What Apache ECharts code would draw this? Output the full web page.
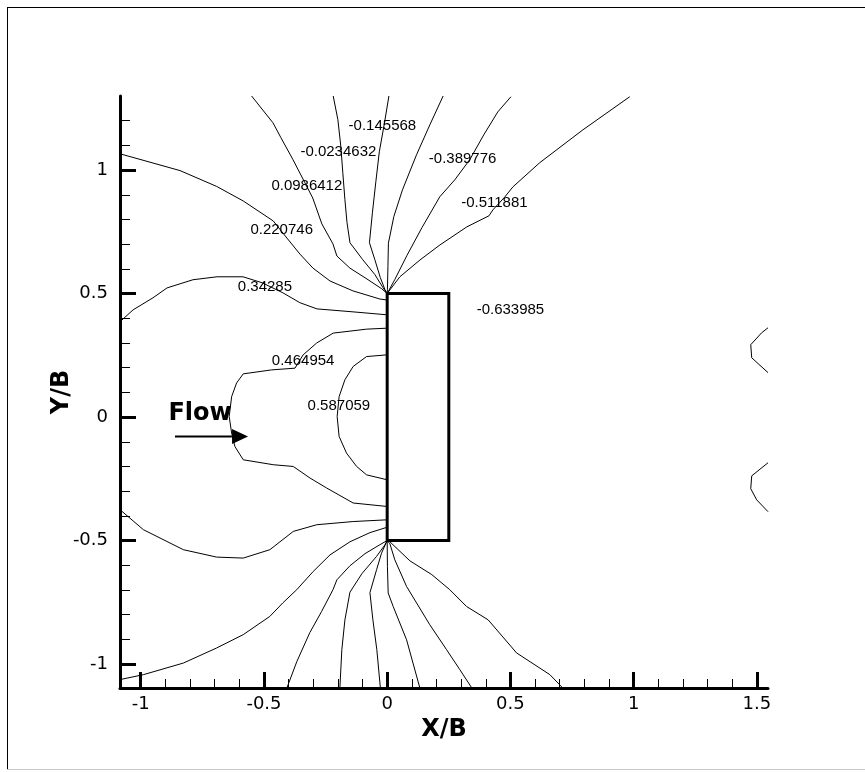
<!DOCTYPE html>
<html>
<head>
<meta charset="utf-8">
<title>Pressure coefficient contours around a rectangular cylinder</title>
<script src="https://cdn.jsdelivr.net/npm/echarts@6/dist/echarts.min.js"></script>
<style>
  html, body { margin: 0; padding: 0; background: #ffffff; }
  #chart { width: 865px; height: 772px; }
</style>
</head>
<body>
<div id="chart"></div>
<script>
// Axis extents (X/B, Y/B)
const xRange = [-1.084, 1.545];
const yRange = [-1.097, 1.30];

// Tick values
const xMajorTicks = [-1, -0.5, 0, 0.5, 1, 1.5];
const xMinorTicks = [-0.9, -0.8, -0.7, -0.6, -0.4, -0.3, -0.2, -0.1, 0.1, 0.2, 0.3, 0.4,
                     0.6, 0.7, 0.8, 0.9, 1.1, 1.2, 1.3, 1.4];
const yMajorTicks = [-1, -0.5, 0, 0.5, 1];
const yMinorTicks = [-0.9, -0.8, -0.7, -0.6, -0.4, -0.3, -0.2, -0.1, 0.1, 0.2, 0.3, 0.4,
                     0.6, 0.7, 0.8, 0.9, 1.1, 1.2];

// Contour levels of the pressure coefficient
const levels = [0.587059, 0.464954, 0.34285, 0.220746, 0.0986412, -0.0234632,
                -0.145568, -0.267672, -0.389776, -0.511881, -0.633985];

// Cylinder cross-section (front face at X/B = 0, depth 0.25 B)
const bodyOutline = [[0, -0.5], [0, 0.5], [0.25, 0.5], [0.25, -0.5], [0, -0.5]];

// Contour polylines [X/B, Y/B]
const cp0587 = [[0, 0.252], [-0.0835, 0.245], [-0.138, 0.205], [-0.1715, 0.151], [-0.195, 0.083],
  [-0.203, 0.002], [-0.195, -0.0785], [-0.165, -0.146], [-0.124, -0.200], [-0.0835, -0.234], [0, -0.254]];

const cp0465 = [[0, 0.360], [-0.0835, 0.356], [-0.219, 0.340], [-0.286, 0.300], [-0.341, 0.252],
  [-0.374, 0.198], [-0.469, 0.191], [-0.584, 0.175], [-0.611, 0.138], [-0.631, 0.083], [-0.641, 0.002],
  [-0.631, -0.065], [-0.618, -0.119], [-0.584, -0.173], [-0.462, -0.193], [-0.381, -0.200],
  [-0.313, -0.247], [-0.246, -0.287], [-0.138, -0.348], [0, -0.362]];

const cp0343Upper = [[-1.084, 0.386], [-1.031, 0.434], [-0.950, 0.483], [-0.893, 0.523], [-0.788, 0.556],
  [-0.690, 0.568], [-0.585, 0.568], [-0.508, 0.544], [-0.423, 0.503], [-0.354, 0.463], [-0.285, 0.438],
  [-0.139, 0.426], [0, 0.414]];
const cp0343Lower = [[-1.084, -0.375], [-0.989, -0.456], [-0.827, -0.537], [-0.692, -0.567], [-0.584, -0.571],
  [-0.476, -0.537], [-0.381, -0.463], [-0.286, -0.436], [-0.138, -0.423], [0, -0.416]];

const cp0221Upper = [[-1.084, 1.066], [-0.8406, 0.998], [-0.692, 0.934], [-0.584, 0.875], [-0.462, 0.794],
  [-0.407, 0.725], [-0.354, 0.660], [-0.301, 0.603], [-0.232, 0.551], [-0.139, 0.511], [-0.030, 0.478], [0, 0.474]];
const cp0221Lower = [[-1.084, -1.063], [-0.989, -1.043], [-0.827, -0.996], [-0.692, -0.935], [-0.584, -0.881],
  [-0.476, -0.807], [-0.423, -0.752], [-0.367, -0.699], [-0.300, -0.625], [-0.232, -0.558], [-0.151, -0.505],
  [-0.070, -0.468], [0, -0.446]];

const cp0099Upper = [[-0.550, 1.30], [-0.4635, 1.1915], [-0.431, 1.131], [-0.382, 1.042], [-0.334, 0.949],
  [-0.302, 0.887], [-0.265, 0.782], [-0.220, 0.701], [-0.204, 0.652], [-0.151, 0.603], [-0.082, 0.559],
  [-0.0215, 0.519], [0, 0.5]];
const cp0099Lower = [[-0.407, -1.097], [-0.367, -0.991], [-0.314, -0.873], [-0.266, -0.787], [-0.220, -0.699],
  [-0.204, -0.659], [-0.151, -0.602], [-0.090, -0.553], [-0.030, -0.517], [0, -0.5]];

const cpM023Upper = [[-0.219, 1.30], [-0.200, 1.204], [-0.188, 1.095], [-0.180, 0.989], [-0.1715, 0.880],
  [-0.163, 0.7875], [-0.151, 0.706], [-0.099, 0.637], [-0.050, 0.577], [-0.017, 0.524], [0, 0.5]];
const cpM023Lower = [[-0.192, -1.097], [-0.184, -0.942], [-0.1715, -0.821], [-0.151, -0.709], [-0.1025, -0.634],
  [-0.043, -0.564], [-0.009, -0.517], [0, -0.5]];

const cpM146Upper = [[0.007, 1.30], [-0.011, 1.191], [-0.032, 1.074], [-0.046, 0.953], [-0.060, 0.827],
  [-0.072, 0.706], [-0.050, 0.637], [-0.028, 0.565], [-0.009, 0.516], [0, 0.5]];
const cpM146Lower = [[-0.0276, -1.097], [-0.042, -0.942], [-0.058, -0.821], [-0.070, -0.711], [-0.043, -0.618],
  [-0.023, -0.551], [0, -0.5]];

const cpM268Upper = [[0.227, 1.30], [0.173, 1.183], [0.119, 1.062], [0.062, 0.920], [0.027, 0.812],
  [0.005, 0.704], [0.003, 0.610], [0.001, 0.516], [0, 0.5]];
const cpM268Lower = [[0.1326, -1.097], [0.0787, -0.902], [0.0243, -0.767], [0.004, -0.7125], [0.001, -0.605], [0, -0.5]];

const cpM390Upper = [[0.502, 1.297], [0.449, 1.236], [0.392, 1.143], [0.335, 1.042], [0.2745, 0.961],
  [0.2135, 0.892], [0.141, 0.767], [0.080, 0.654], [0.031, 0.557], [0, 0.5]];
const cpM390Lower = [[0.3435, -1.097], [0.295, -1.023], [0.241, -0.942], [0.173, -0.841], [0.0787, -0.686],
  [0.031, -0.578], [0.011, -0.513], [0, -0.5]];

const cpM512Upper = [[0.984, 1.297], [0.794, 1.163], [0.619, 1.030], [0.510, 0.932], [0.477, 0.891],
  [0.429, 0.839], [0.413, 0.815], [0.323, 0.770], [0.214, 0.697], [0.133, 0.636], [0.0515, 0.568],
  [0.011, 0.515], [0, 0.5]];
const cpM512Lower = [[0.7125, -1.097], [0.660, -1.043], [0.525, -0.955], [0.4096, -0.821], [0.322, -0.767],
  [0.254, -0.699], [0.181, -0.638], [0.092, -0.582], [0.011, -0.505], [0, -0.5]];

const wakeUpper = [[1.545, 0.3615], [1.519, 0.341], [1.475, 0.293], [1.479, 0.240], [1.545, 0.180]];
const wakeLower = [[1.545, -0.185], [1.479, -0.238], [1.475, -0.290], [1.499, -0.335], [1.545, -0.383]];

// Where each level's value is written [X/B, Y/B]
const labelAnchors = [[-0.196, 0.046], [-0.341, 0.228], [-0.496, 0.528], [-0.428, 0.760], [-0.326, 0.936],
  [-0.198, 1.072], [-0.0195, 1.179], null, [0.306, 1.046], [0.435, 0.868], [0.500, 0.434]];

// Free-stream annotation
const flowText = 'Flow';
const flowTextAt = [-0.759, 0.0146];
const flowShaft = [[-0.861, -0.0785], [-0.630, -0.0785]];
const flowHead = [[-0.597, -0.0785]];

const contourLines = [
  cp0587, cp0465, cp0343Upper, cp0343Lower, cp0221Upper, cp0221Lower, cp0099Upper, cp0099Lower,
  cpM023Upper, cpM023Lower, cpM146Upper, cpM146Lower, cpM268Upper, cpM268Lower,
  cpM390Upper, cpM390Lower, cpM512Upper, cpM512Lower, wakeUpper, wakeLower
];

const chart = echarts.init(document.getElementById('chart'), null, { renderer: 'canvas' });

const lineSeries = contourLines.map(function (pts) {
  return {
    type: 'line', data: pts, xAxisIndex: 0, yAxisIndex: 0,
    showSymbol: false, symbol: 'none', silent: true, animation: false,
    lineStyle: { color: '#000', width: 1 }, z: 2
  };
});

const levelLabelData = [];
labelAnchors.forEach(function (a, i) {
  if (a) levelLabelData.push([a[0], a[1], levels[i]]);
});

const tickFont = { fontFamily: 'DejaVu Sans', fontSize: 18, color: '#000' };

const option = {
  backgroundColor: '#ffffff',
  animation: false,
  grid: { left: 120, top: 96, right: 97, bottom: 84, containLabel: false },
  xAxis: [
    {
      type: 'value', min: xRange[0], max: xRange[1], position: 'bottom',
      name: 'X/B', nameLocation: 'middle', nameGap: 30, nameMoveOverlap: false,
      nameTextStyle: { fontFamily: 'DejaVu Sans', fontWeight: 'bold', fontSize: 24, color: '#000' },
      axisLine: { show: true, onZero: false, lineStyle: { color: '#000', width: 3 } },
      axisTick: { show: true, inside: true, length: 16, customValues: xMajorTicks,
                  lineStyle: { color: '#000', width: 3 } },
      axisLabel: Object.assign({ show: true, margin: 7, customValues: xMajorTicks }, tickFont),
      splitLine: { show: false }
    },
    {
      type: 'value', min: xRange[0], max: xRange[1], position: 'bottom',
      axisLine: { show: false, onZero: false },
      axisTick: { show: true, inside: true, length: 9, customValues: xMinorTicks,
                  lineStyle: { color: '#000', width: 1 } },
      axisLabel: { show: false },
      splitLine: { show: false }
    }
  ],
  yAxis: [
    {
      type: 'value', min: yRange[0], max: yRange[1], position: 'left',
      name: 'Y/B', nameLocation: 'middle', nameGap: 46, nameMoveOverlap: false,
      nameTextStyle: { fontFamily: 'DejaVu Sans', fontWeight: 'bold', fontSize: 24, color: '#000' },
      axisLine: { show: true, onZero: false, lineStyle: { color: '#000', width: 3 } },
      axisTick: { show: true, inside: true, length: 16, customValues: yMajorTicks,
                  lineStyle: { color: '#000', width: 3 } },
      axisLabel: Object.assign({ show: true, margin: 12, customValues: yMajorTicks }, tickFont),
      splitLine: { show: false }
    },
    {
      type: 'value', min: yRange[0], max: yRange[1], position: 'left',
      axisLine: { show: false, onZero: false },
      axisTick: { show: true, inside: true, length: 10, customValues: yMinorTicks,
                  lineStyle: { color: '#000', width: 1 } },
      axisLabel: { show: false },
      splitLine: { show: false }
    }
  ],
  graphic: [
    { type: 'line', silent: true, shape: { x1: 7, y1: 7.5, x2: 865, y2: 7.5 }, style: { stroke: '#000', lineWidth: 1 } },
    { type: 'line', silent: true, shape: { x1: 7.5, y1: 7, x2: 7.5, y2: 769 }, style: { stroke: '#000', lineWidth: 1 } },
    { type: 'line', silent: true, shape: { x1: 7, y1: 769.5, x2: 865, y2: 769.5 }, style: { stroke: '#c8c8c8', lineWidth: 1 } }
  ],
  series: lineSeries.concat([
    {
      type: 'line', data: bodyOutline, xAxisIndex: 0, yAxisIndex: 0,
      showSymbol: false, symbol: 'none', silent: true, animation: false,
      lineStyle: { color: '#000', width: 3, join: 'miter', cap: 'square' }, z: 3
    },
    {
      type: 'line', data: flowShaft, xAxisIndex: 0, yAxisIndex: 0,
      showSymbol: false, symbol: 'none', silent: true, animation: false,
      lineStyle: { color: '#000', width: 2 }, z: 3
    },
    {
      type: 'scatter', data: flowHead, xAxisIndex: 0, yAxisIndex: 0,
      symbol: 'path://M0,0 L16,7.5 L0,15 Z', symbolSize: [16, 15], silent: true, animation: false,
      itemStyle: { color: '#000', opacity: 1 }, z: 3
    },
    {
      type: 'scatter', data: [flowTextAt], xAxisIndex: 0, yAxisIndex: 0,
      symbolSize: 1, silent: true, animation: false, itemStyle: { color: 'rgba(0,0,0,0)', opacity: 1 },
      label: { show: true, position: 'inside', opacity: 1, formatter: function () { return flowText; },
               fontFamily: 'DejaVu Sans', fontWeight: 'bold', fontSize: 24, color: '#000' },
      z: 4
    },
    {
      type: 'scatter', data: levelLabelData, xAxisIndex: 0, yAxisIndex: 0,
      symbolSize: 1, silent: true, animation: false, itemStyle: { color: 'rgba(0,0,0,0)', opacity: 1 },
      label: { show: true, position: 'inside', opacity: 1, formatter: function (p) { return String(p.value[2]); },
               fontFamily: 'Liberation Sans', fontSize: 15, color: '#000' },
      z: 4
    }
  ])
};

chart.setOption(option);
</script>
</body>
</html>
